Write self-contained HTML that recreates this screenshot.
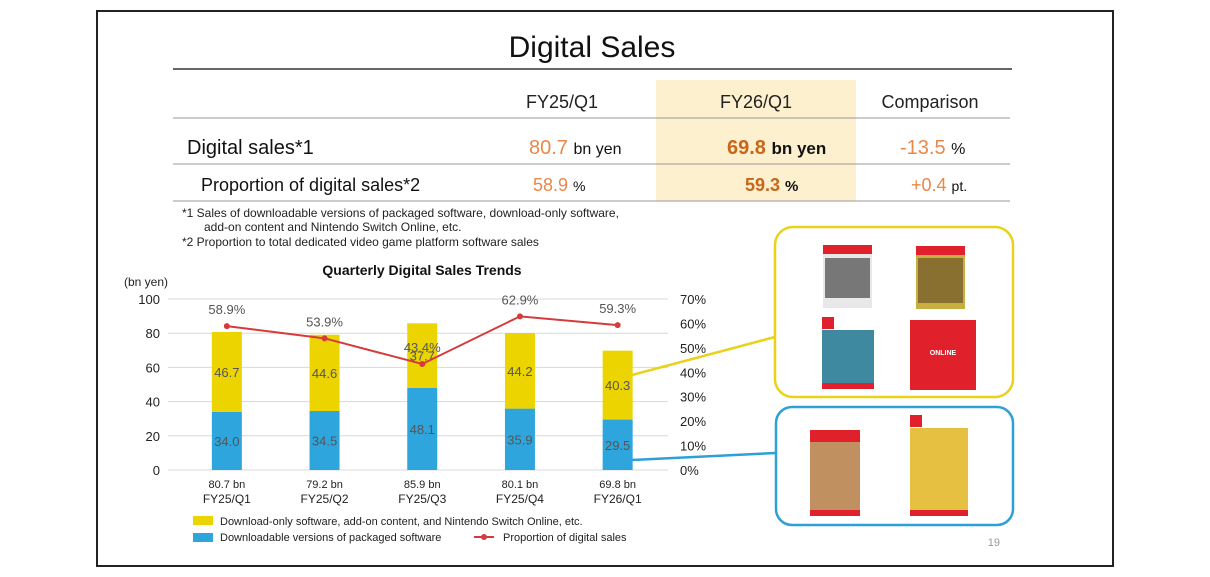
<!DOCTYPE html>
<html><head><meta charset="utf-8"><style>
body{margin:0;background:#fff;width:1210px;height:572px;overflow:hidden;font-family:"Liberation Sans",sans-serif}
</style></head><body>
<svg width="1210" height="572" viewBox="0 0 1210 572" xmlns="http://www.w3.org/2000/svg" font-family="Liberation Sans, sans-serif">
<rect x="97" y="11" width="1016" height="555" fill="#fff" stroke="#222" stroke-width="2"/>
<text x="592" y="57" font-size="30" text-anchor="middle" fill="#111">Digital Sales</text>
<line x1="173" y1="69" x2="1012" y2="69" stroke="#333" stroke-width="1.5"/>
<rect x="656" y="80" width="200" height="121" fill="#fdf0cf"/>
<g font-size="18" fill="#222" text-anchor="middle">
<text x="562" y="108">FY25/Q1</text><text x="756" y="108">FY26/Q1</text><text x="930" y="108">Comparison</text></g>
<line x1="173" y1="118" x2="1010" y2="118" stroke="#999"/>
<line x1="173" y1="164" x2="1010" y2="164" stroke="#999"/>
<line x1="173" y1="201" x2="1010" y2="201" stroke="#999"/>
<g>
<text x="187" y="154" font-size="20" fill="#111">Digital sales*1</text>
<text x="529" y="154" font-size="20" fill="#e8884a">80.7 <tspan font-size="16" fill="#111">bn yen</tspan></text>
<text x="727" y="154" font-size="20" font-weight="bold" fill="#c8661a">69.8 <tspan font-size="17" fill="#111">bn yen</tspan></text>
<text x="900" y="154" font-size="20" fill="#e8884a">-13.5 <tspan font-size="16" fill="#111">%</tspan></text></g>
<g>
<text x="201" y="191" font-size="18" fill="#111">Proportion of digital sales*2</text>
<text x="533" y="191" font-size="18" fill="#e8884a">58.9 <tspan font-size="14" fill="#111">%</tspan></text>
<text x="745" y="191" font-size="18" font-weight="bold" fill="#c8661a">59.3 <tspan font-size="15" fill="#111">%</tspan></text>
<text x="911" y="191" font-size="18" fill="#e8884a">+0.4 <tspan font-size="14" fill="#111">pt.</tspan></text></g>
<g font-size="12" fill="#222">
<text x="182" y="217">*1 Sales of downloadable versions of packaged software, download-only software,</text>
<text x="204" y="231">add-on content and Nintendo Switch Online, etc.</text>
<text x="182" y="246">*2 Proportion to total dedicated video game platform software sales</text></g>
<text x="422" y="275" font-size="14" font-weight="bold" text-anchor="middle" fill="#111">Quarterly Digital Sales Trends</text>
<text x="124" y="286" font-size="12" fill="#222">(bn yen)</text>
<g id="chart"></g>
<!-- image boxes -->
<rect x="775" y="227" width="238" height="170" rx="18" fill="none" stroke="#e8d21a" stroke-width="2.5"/>
<rect x="776" y="407" width="237" height="118" rx="16" fill="none" stroke="#2ea0d8" stroke-width="2.5"/>
<line x1="632" y1="375" x2="775" y2="337" stroke="#e8d21a" stroke-width="2.5"/>
<line x1="632" y1="460" x2="776" y2="453" stroke="#2ea0d8" stroke-width="2.5"/>
<g>
<rect x="823" y="245" width="49" height="63" fill="#e8e8e8"/><rect x="823" y="245" width="49" height="9" fill="#e0202a"/><rect x="825" y="258" width="45" height="40" fill="#777"/>
<rect x="916" y="246" width="49" height="63" fill="#c8b040"/><rect x="916" y="246" width="49" height="9" fill="#e0202a"/><rect x="918" y="258" width="45" height="45" fill="#8a7030"/>
<rect x="822" y="330" width="52" height="58" fill="#3e88a0"/><rect x="822" y="317" width="12" height="12" fill="#e0202a"/><rect x="822" y="383" width="52" height="6" fill="#e0202a"/>
<rect x="910" y="320" width="66" height="70" fill="#e0202a"/><text x="943" y="355" font-size="7" fill="#fff" text-anchor="middle" font-weight="bold">ONLINE</text>
<rect x="810" y="430" width="50" height="86" fill="#c09060"/><rect x="810" y="430" width="50" height="12" fill="#e0202a"/><rect x="810" y="510" width="50" height="6" fill="#e0202a"/>
<rect x="910" y="415" width="12" height="12" fill="#e0202a"/><rect x="910" y="428" width="58" height="88" fill="#e6c040"/><rect x="910" y="510" width="58" height="6" fill="#e0202a"/>
</g>
<text x="1000" y="546" font-size="11" fill="#999" text-anchor="end">19</text>
<g>
<rect x="193" y="516" width="20" height="9" fill="#ecd400"/>
<text x="220" y="525" font-size="11" fill="#222">Download-only software, add-on content, and Nintendo Switch Online, etc.</text>
<rect x="193" y="533" width="20" height="9" fill="#2ea6dd"/>
<text x="220" y="541" font-size="11" fill="#222">Downloadable versions of packaged software</text>
<line x1="474" y1="537" x2="494" y2="537" stroke="#d63a3a" stroke-width="2"/><circle cx="484" cy="537" r="3" fill="#d63a3a"/>
<text x="503" y="541" font-size="11" fill="#222">Proportion of digital sales</text></g>
</svg>
<script>
const categories=["FY25/Q1","FY25/Q2","FY25/Q3","FY25/Q4","FY26/Q1"];
const totals=["80.7 bn","79.2 bn","85.9 bn","80.1 bn","69.8 bn"];
const packaged=[34.0,34.5,48.1,35.9,29.5];
const downloadOnly=[46.7,44.6,37.7,44.2,40.3];
const proportion=[58.9,53.9,43.4,62.9,59.3];
const leftTicks=[0,20,40,60,80,100];
const rightTicks=[0,10,20,30,40,50,60,70];
const NS="http://www.w3.org/2000/svg";
const g=document.getElementById('chart');
const y0=470,ph=171,x0=178,step=97.7;
const yL=v=>y0-v/100*ph, yR=v=>y0-v/70*ph, xC=i=>x0+step*(i+0.5);
function mk(t,a,txt){const e=document.createElementNS(NS,t);for(const k in a)e.setAttribute(k,a[k]);if(txt!=null)e.textContent=txt;g.appendChild(e);return e;}
leftTicks.forEach(v=>{
 const l=mk('line',{x1:168,x2:668,y1:yL(v),y2:yL(v),stroke:'#d8d8d8'});
 
 
 const t=mk('text',{x:160,y:yL(v)+5,'font-size':13,'text-anchor':'end',fill:'#222'},v);
 
 
});
rightTicks.forEach(v=>{
 const t=mk('text',{x:680,y:yR(v)+5,'font-size':13,fill:'#222'},v+'%');
 
 
});
categories.forEach((c,i)=>{
 const x=xC(i),w=30;
 const b=mk('rect',{x:x-w/2,y:yL(packaged[i]),width:w,height:y0-yL(packaged[i]),fill:'#2ea6dd'});
 
 
 const top=packaged[i]+downloadOnly[i];
 const b2=mk('rect',{x:x-w/2,y:yL(top),width:w,height:yL(packaged[i])-yL(top),fill:'#ecd400'});
 
 
 const t1=mk('text',{x:x,y:(yL(packaged[i])+y0)/2+5,'font-size':13,'text-anchor':'middle',fill:'#555'},packaged[i].toFixed(1));
 
 
 const t2=mk('text',{x:x,y:(yL(top)+yL(packaged[i]))/2+5,'font-size':13,'text-anchor':'middle',fill:'#555'},downloadOnly[i].toFixed(1));
 
 
 const c1=mk('text',{x:x,y:488,'font-size':11,'text-anchor':'middle',fill:'#222'},totals[i]);
 
 
 const c2=mk('text',{x:x,y:503,'font-size':12,'text-anchor':'middle',fill:'#222'},c);
 
 
});
const pl=mk('polyline',{points:proportion.map((v,i)=>xC(i)+','+yR(v)).join(' '),fill:'none',stroke:'#d63a3a','stroke-width':2});


proportion.forEach((v,i)=>{
 const c=mk('circle',{cx:xC(i),cy:yR(v),r:3,fill:'#d63a3a'});
 
 
 const t=mk('text',{x:xC(i),y:yR(v)-12,'font-size':13,'text-anchor':'middle',fill:'#555'},v.toFixed(1)+'%');
 
 
});
</script>
</body></html>
